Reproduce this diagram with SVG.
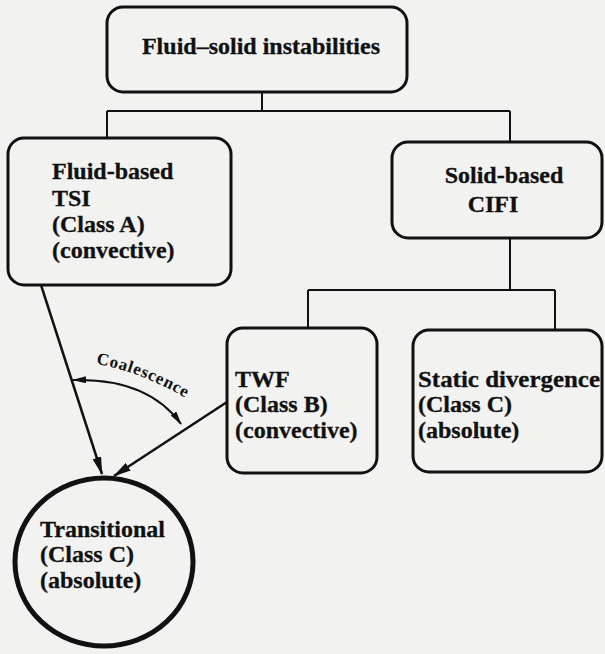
<svg xmlns="http://www.w3.org/2000/svg" width="605" height="654" viewBox="0 0 605 654">
<defs>
<style>
.box{fill:none;stroke:#111;stroke-width:3}
.t{font-family:"Liberation Serif","Times New Roman",serif;font-weight:bold;font-size:24px;fill:#111;stroke:#111;stroke-width:0.3}
.ln{fill:none;stroke:#111;stroke-width:2}
.ar{fill:none;stroke:#111;stroke-width:2.5}
</style>
<marker id="ah" viewBox="0 0 18 9" refX="17" refY="4.5" markerWidth="18" markerHeight="9" markerUnits="userSpaceOnUse" orient="auto">
<path d="M0,0 L18,4.5 L0,9 z" fill="#111"/>
</marker>
<marker id="sh" viewBox="0 0 14 7" refX="13" refY="3.5" markerWidth="14" markerHeight="7" markerUnits="userSpaceOnUse" orient="auto-start-reverse">
<path d="M0,0 L14,3.5 L0,7 z" fill="#111"/>
</marker>
<path id="coalPath" d="M96,364 Q140,371 191,401"/>
</defs>
<rect width="605" height="654" fill="#f2f2f0"/>

<g id="connectors">
<path class="ln" d="M262,92 V111 M107,111 H510 M107,111 V138 M510,111 V142"/>
<path class="ln" d="M510,238 V290 M308,290 H555 M308,290 V328 M555,290 V330"/>
<path class="ar" d="M41,285 L102,474" marker-end="url(#ah)"/>
<path class="ar" d="M227,402 L114,476" marker-end="url(#ah)"/>
<path class="ln" d="M73,380 Q148,378 181,424" marker-start="url(#sh)" marker-end="url(#sh)"/>
<text style="font-family:'Liberation Serif','Times New Roman',serif;font-weight:bold;font-size:17px;fill:#111"><textPath href="#coalPath" textLength="96" lengthAdjust="spacing">Coalescence</textPath></text>
</g>

<g id="root">
<rect class="box" x="107" y="7" width="300" height="85" rx="16"/>
<text class="t" x="261" y="54" text-anchor="middle">Fluid–solid instabilities</text>
</g>

<g id="fluid">
<rect class="box" x="8" y="138" width="223" height="147" rx="16"/>
<text class="t" x="52" y="179">Fluid-based</text>
<text class="t" x="52" y="206">TSI</text>
<text class="t" x="52" y="232">(Class A)</text>
<text class="t" x="52" y="258">(convective)</text>
</g>

<g id="solid">
<rect class="box" x="392" y="142" width="210" height="96" rx="16"/>
<text class="t" x="504" y="183" text-anchor="middle">Solid-based</text>
<text class="t" x="493" y="212" text-anchor="middle">CIFI</text>
</g>

<g id="twf">
<rect class="box" x="227" y="328" width="150" height="145" rx="16"/>
<text class="t" x="235" y="387">TWF</text>
<text class="t" x="235" y="412">(Class B)</text>
<text class="t" x="235" y="438">(convective)</text>
</g>

<g id="static">
<rect class="box" x="413" y="330" width="189" height="142" rx="16"/>
<text class="t" x="418" y="387" textLength="182" lengthAdjust="spacingAndGlyphs">Static divergence</text>
<text class="t" x="418" y="412">(Class C)</text>
<text class="t" x="418" y="438">(absolute)</text>
</g>

<g id="transitional">
<ellipse cx="104" cy="562" rx="89" ry="84" fill="none" stroke="#111" stroke-width="5"/>
<text class="t" x="40" y="537">Transitional</text>
<text class="t" x="40" y="562">(Class C)</text>
<text class="t" x="40" y="588">(absolute)</text>
</g>
</svg>
